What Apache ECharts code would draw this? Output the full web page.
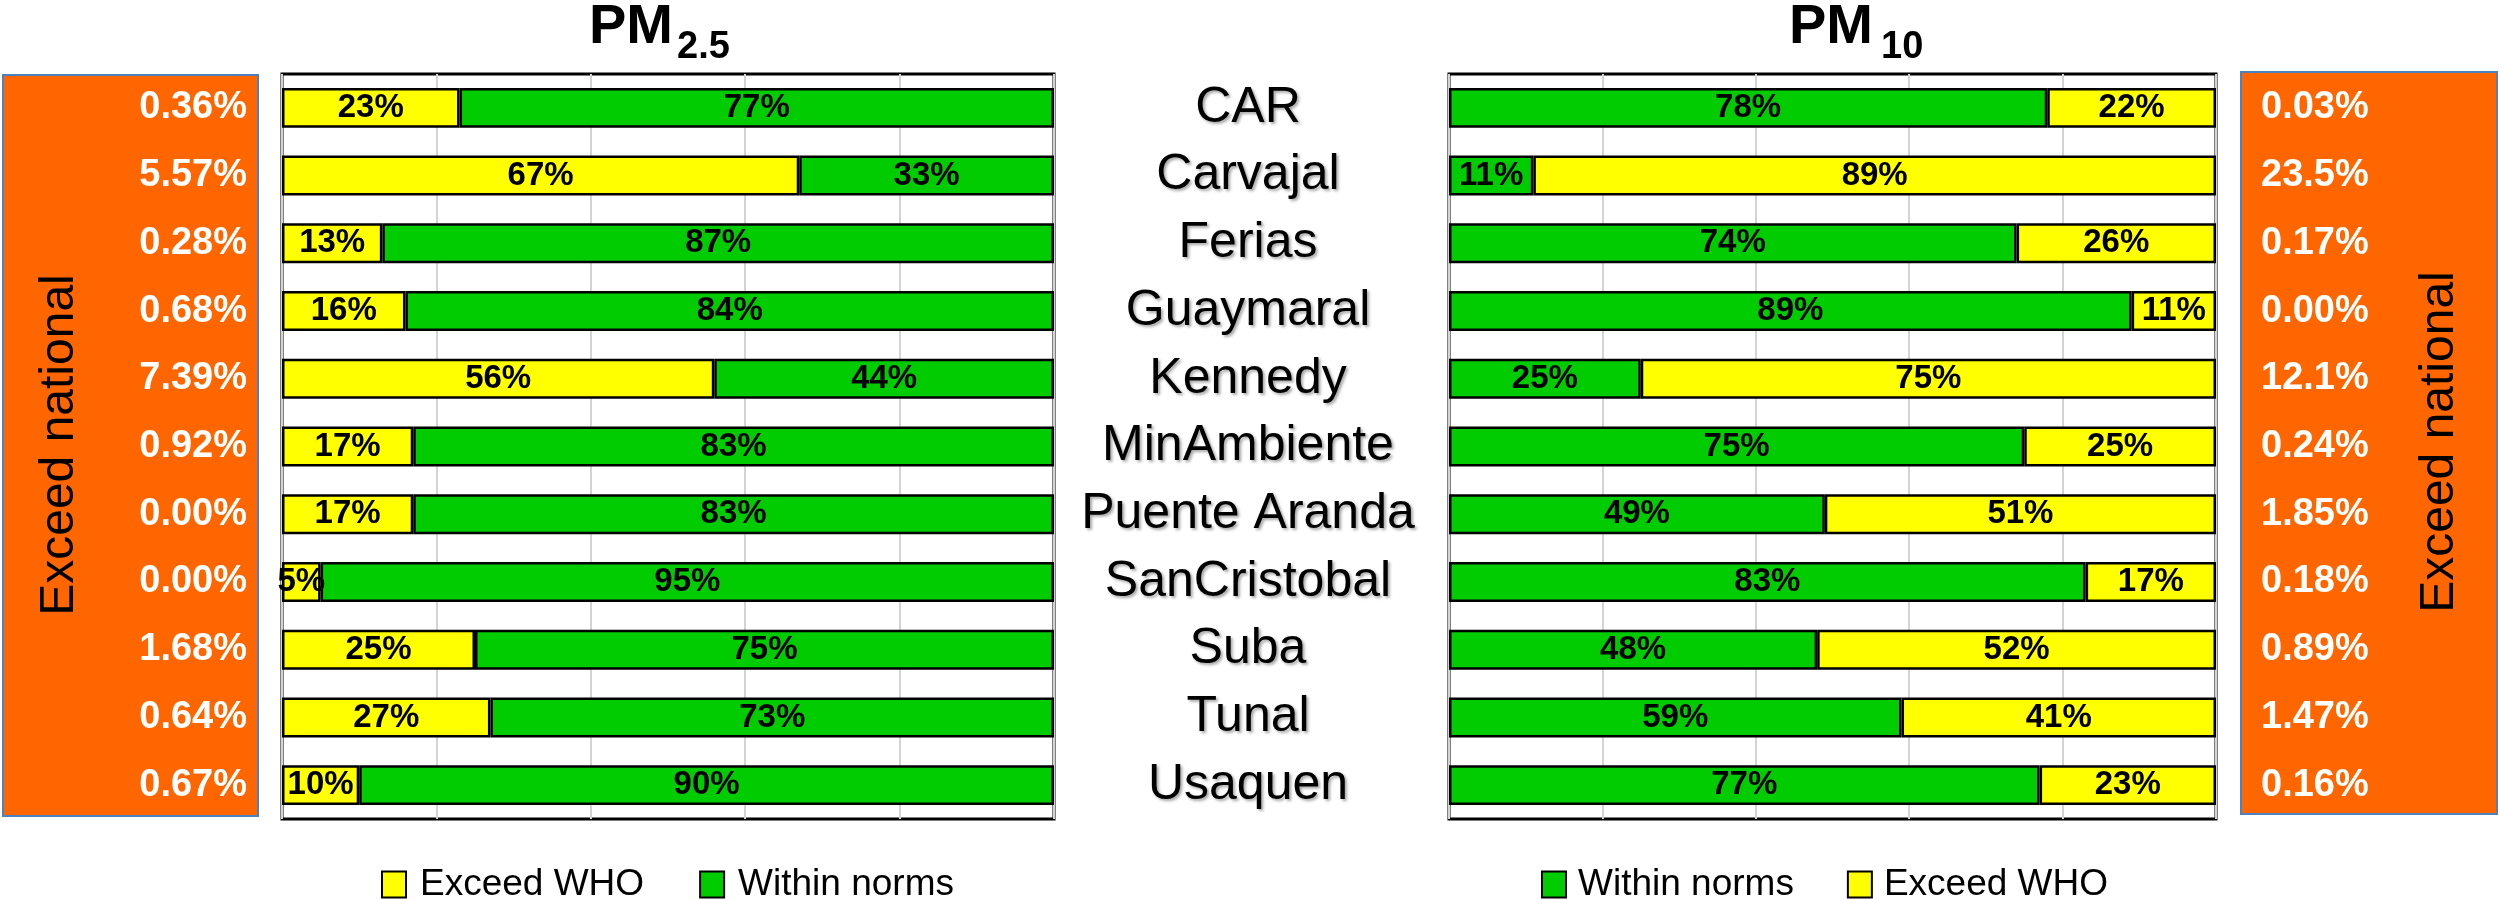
<!DOCTYPE html>
<html>
<head>
<meta charset="utf-8">
<script src="https://cdn.jsdelivr.net/npm/echarts@6/dist/echarts.min.js"></script>
<style>
html, body { margin: 0; padding: 0; background: #fff; }
#main { width: 2500px; height: 900px; }
</style>
</head>
<body>
<div id="main"></div>
<script>
var stations = ['CAR', 'Carvajal', 'Ferias', 'Guaymaral', 'Kennedy', 'MinAmbiente',
	'Puente Aranda', 'SanCristobal', 'Suba', 'Tunal', 'Usaquen'];

// PM2.5 (left panel)
var pm25Exceed = [23, 67, 13, 16, 56, 17, 17, 5, 25, 27, 10];
var pm25Within = [77, 33, 87, 84, 44, 83, 83, 95, 75, 73, 90];
var pm25National = ['0.36', '5.57', '0.28', '0.68', '7.39', '0.92', '0.00', '0.00', '1.68', '0.64', '0.67'];

// PM10 (right panel)
var pm10Within = [78, 11, 74, 89, 25, 75, 49, 83, 48, 59, 77];
var pm10Exceed = [22, 89, 26, 11, 75, 25, 51, 17, 52, 41, 23];
var pm10National = ['0.03', '23.5', '0.17', '0.00', '12.1', '0.24', '1.85', '0.18', '0.89', '1.47', '0.16'];

var YELLOW = '#FFFF00';
var GREEN = '#00CC00';
var ORANGE = '#FF6600';
var FONT = 'Liberation Sans';

var myChart = echarts.init(document.getElementById('main'));

function barSeries(name, color, data, idx){
	return {
		name: name,
		type: 'bar',
		stack: 'p' + idx,
		xAxisIndex: idx,
		yAxisIndex: idx * 2,
		barCategoryGap: '41%',
		data: data,
		itemStyle: { color: color, borderColor: '#000', borderWidth: 2.5 },
		label: {
			show: true,
			position: 'inside',
			formatter: '{c}%',
			color: '#000',
			fontFamily: FONT,
			fontWeight: 'bold',
			fontSize: 33,
			textBorderWidth: 0
		},
		emphasis: { disabled: true }
	};
}

function valueAxis(idx){
	return {
		type: 'value',
		gridIndex: idx,
		min: 0,
		max: 100,
		interval: 20,
		axisLabel: { show: false },
		axisLine: { show: false },
		axisTick: { show: false },
		splitLine: { lineStyle: { color: '#d4d4d4', width: 2 } }
	};
}

function catAxis(idx, pos, label){
	return {
		type: 'category',
		gridIndex: idx,
		position: pos,
		inverse: true,
		data: stations,
		axisLine: { show: false },
		axisTick: { show: false },
		axisLabel: label
	};
}

function titleText(x, y, text, size){
	return {
		type: 'text', x: x, y: y,
		style: { text: text, fill: '#000', font: 'bold ' + size + 'px "Liberation Sans"', align: 'left', verticalAlign: 'middle' }
	};
}

var option = {
	backgroundColor: '#fff',
	animation: false,
	legend: [
		{
			data: ['Exceed WHO', 'Within norms'],
			left: 381, top: 866,
			icon: 'rect', itemWidth: 24, itemHeight: 26, itemGap: 55,
			padding: 0,
			textStyle: { fontFamily: FONT, fontSize: 37, color: '#000', padding: [0, 0, 0, 9] }
		},
		{
			data: ['Within norms', 'Exceed WHO'],
			left: 1541, top: 866,
			icon: 'rect', itemWidth: 24, itemHeight: 26, itemGap: 53,
			padding: 0,
			textStyle: { fontFamily: FONT, fontSize: 37, color: '#000', padding: [0, 0, 0, 7] }
		}
	],
	grid: [
		{ left: 282, width: 772, top: 74, height: 745, show: true, borderColor: '#000', borderWidth: 3, outerBoundsMode: 'none' },
		{ left: 1449, width: 767, top: 74, height: 745, show: true, borderColor: '#000', borderWidth: 3, outerBoundsMode: 'none' }
	],
	xAxis: [valueAxis(0), valueAxis(1)],
	yAxis: [
		catAxis(0, 'left', {
			margin: 35,
			color: '#fff', fontFamily: FONT, fontWeight: 'bold', fontSize: 38,
			formatter: function(v, i){ return pm25National[i] + '%'; }
		}),
		catAxis(0, 'right', {
			margin: 194, align: 'center', padding: [8, 0, 0, 0],
			color: '#000', fontFamily: FONT, fontSize: 50,
			textShadowColor: 'rgba(0,0,0,0.35)', textShadowBlur: 3, textShadowOffsetX: 2, textShadowOffsetY: 2
		}),
		catAxis(1, 'right', {
			margin: 45, align: 'left',
			color: '#fff', fontFamily: FONT, fontWeight: 'bold', fontSize: 38,
			formatter: function(v, i){ return pm10National[i] + '%'; }
		})
	],
	graphic: [
		{ type: 'rect', z: -10, shape: { x: 3, y: 75, width: 255, height: 741 },
			style: { fill: ORANGE, stroke: '#4F81BD', lineWidth: 2 } },
		{ type: 'rect', z: -10, shape: { x: 2241, y: 72, width: 256, height: 742 },
			style: { fill: ORANGE, stroke: '#4F81BD', lineWidth: 2 } },
		{ type: 'text', x: 60, y: 445, rotation: Math.PI / 2,
			style: { text: 'Exceed national', fill: '#000', font: '48px "Liberation Sans"', align: 'center', verticalAlign: 'middle' } },
		{ type: 'text', x: 2440, y: 442, rotation: Math.PI / 2,
			style: { text: 'Exceed national', fill: '#000', font: '48px "Liberation Sans"', align: 'center', verticalAlign: 'middle' } },
		titleText(589, 28, 'PM', 56),
		titleText(677, 48, '2.5', 38),
		titleText(1789, 28, 'PM', 56),
		titleText(1881, 48, '10', 38)
	],
	series: [
		barSeries('Exceed WHO', YELLOW, pm25Exceed, 0),
		barSeries('Within norms', GREEN, pm25Within, 0),
		barSeries('Within norms', GREEN, pm10Within, 1),
		barSeries('Exceed WHO', YELLOW, pm10Exceed, 1)
	]
};

// right grid uses yAxis index 2
option.series[2].yAxisIndex = 2;
option.series[3].yAxisIndex = 2;

myChart.setOption(option);
</script>
</body>
</html>
